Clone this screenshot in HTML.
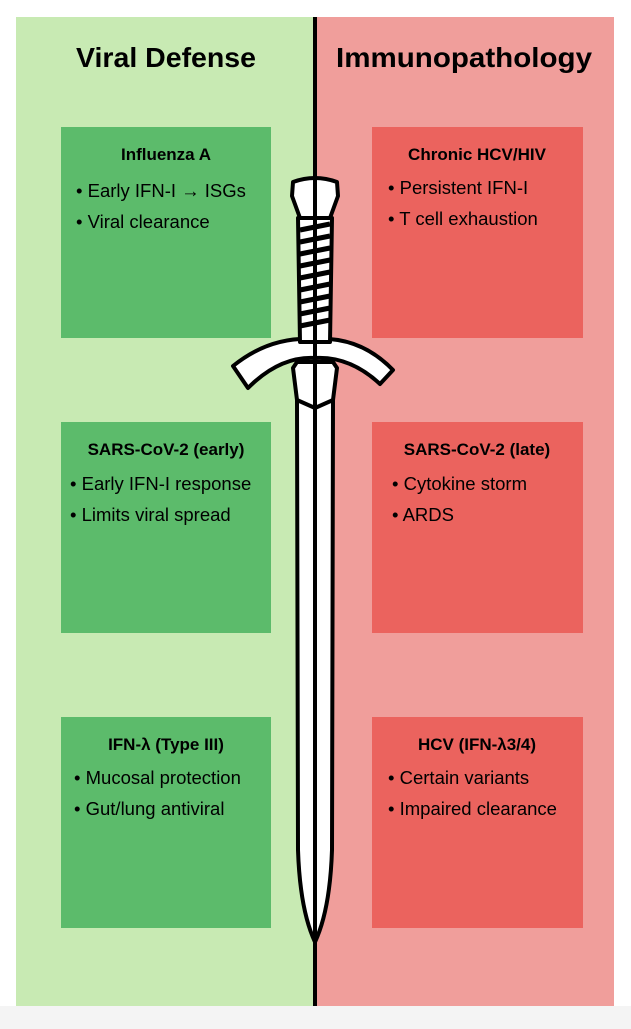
<!DOCTYPE html>
<html><head><meta charset="utf-8"><style>
body{margin:0;width:631px;height:1024px;background:#f4f4f4;overflow:hidden;font-family:"Liberation Sans",sans-serif}
</style></head><body>
<svg width="631" height="1024" xmlns="http://www.w3.org/2000/svg" font-family="Liberation Sans, DejaVu Sans, sans-serif">
<rect x="0" y="0" width="631" height="1006" fill="#fff"/>
<rect x="16" y="17" width="300" height="989" fill="#c8eab3"/>
<rect x="316" y="17" width="298" height="989" fill="#f09e9b"/>
<text x="166" y="67" font-size="28" font-weight="bold" text-anchor="middle" textLength="180" lengthAdjust="spacingAndGlyphs">Viral Defense</text>
<text x="464" y="67" font-size="28" font-weight="bold" text-anchor="middle" textLength="256" lengthAdjust="spacingAndGlyphs">Immunopathology</text>
<g font-size="18.5">
<rect x="61" y="127" width="210" height="211" fill="#5cbb6b"/>
<text x="166" y="160" font-weight="bold" font-size="17" text-anchor="middle">Influenza A</text>
<text x="76" y="197">•  Early IFN-I → ISGs</text>
<text x="76" y="228">•  Viral clearance</text>
<rect x="61" y="422" width="210" height="211" fill="#5cbb6b"/>
<text x="166" y="455" font-weight="bold" font-size="17" text-anchor="middle">SARS-CoV-2 (early)</text>
<text x="70" y="490">•  Early IFN-I response</text>
<text x="70" y="521">•  Limits viral spread</text>
<rect x="61" y="717" width="210" height="211" fill="#5cbb6b"/>
<text x="166" y="750" font-weight="bold" font-size="17" text-anchor="middle">IFN-λ (Type III)</text>
<text x="74" y="784">•  Mucosal protection</text>
<text x="74" y="815">•  Gut/lung antiviral</text>
<rect x="372" y="127" width="211" height="211" fill="#eb635e"/>
<text x="477" y="160" font-weight="bold" font-size="17" text-anchor="middle">Chronic HCV/HIV</text>
<text x="388" y="194">•  Persistent IFN-I</text>
<text x="388" y="225">•  T cell exhaustion</text>
<rect x="372" y="422" width="211" height="211" fill="#eb635e"/>
<text x="477" y="455" font-weight="bold" font-size="17" text-anchor="middle">SARS-CoV-2 (late)</text>
<text x="392" y="490">•  Cytokine storm</text>
<text x="392" y="521">•  ARDS</text>
<rect x="372" y="717" width="211" height="211" fill="#eb635e"/>
<text x="477" y="750" font-weight="bold" font-size="17" text-anchor="middle">HCV (IFN-λ3/4)</text>
<text x="388" y="784">•  Certain variants</text>
<text x="388" y="815">•  Impaired clearance</text>
</g>
<rect x="313" y="17" width="4" height="989" fill="#000"/>
<g stroke="#000" stroke-width="4" fill="#fff" stroke-linejoin="round">
<path d="M293 368 L297 362 L333 362 L337 368 L333 400 L332 850 Q330 910 315 942 Q300 910 298 850 L297 400 Z"/>
<path d="M297 400 L315 408 L333 400" fill="none"/>
<path d="M233 366 Q270 336 315 339 Q360 336 393 370 L380 384 Q350 356 315 358 Q280 356 248 388 Z"/>
<path d="M298 218 L332 218 L330 342 L300 342 Z"/>
<path d="M293 182 Q315 174 337 182 L338 196 L330 218 L300 218 L292 196 Z"/>
</g>
<g stroke="#000" stroke-width="5">
<line x1="300" y1="230" x2="330" y2="224"/>
<line x1="300" y1="242" x2="330" y2="236"/>
<line x1="300" y1="254" x2="330" y2="248"/>
<line x1="300" y1="266" x2="330" y2="260"/>
<line x1="300" y1="278" x2="330" y2="272"/>
<line x1="300" y1="290" x2="330" y2="284"/>
<line x1="300" y1="302" x2="330" y2="296"/>
<line x1="300" y1="314" x2="330" y2="308"/>
<line x1="300" y1="326" x2="330" y2="320"/>
</g>
<rect x="313" y="170" width="4" height="836" fill="#000"/>
</svg>
</body></html>
